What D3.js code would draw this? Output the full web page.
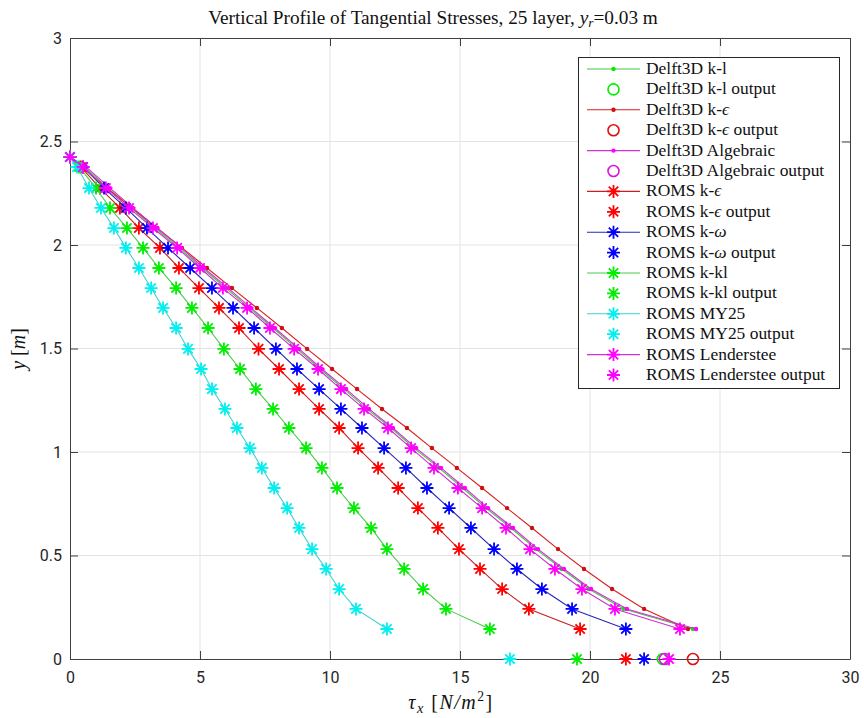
<!DOCTYPE html>
<html>
<head>
<meta charset="utf-8">
<script src="https://cdn.jsdelivr.net/npm/d3@7"></script>
<style>
  body { margin: 0; background: #fff; }
  svg { display: block; }
  .tick text { font-family: Roboto, "DejaVu Sans", sans-serif; font-size: 16px; fill: #262626; }
  .serif { font-family: "Liberation Serif", "DejaVu Serif", serif; fill: #111; }
</style>
</head>
<body>
<svg id="chart" width="864" height="718"></svg>
<script>
// vertical levels (m), bottom to top
var levels = [0.145, 0.242, 0.338, 0.435, 0.531, 0.633, 0.729, 0.826, 0.923, 1.019,
  1.116, 1.208, 1.304, 1.401, 1.498, 1.599, 1.696, 1.792, 1.889, 1.986,
  2.082, 2.179, 2.275, 2.377, 2.425];

// tangential stress (N/m^2) at each level
var delftKl = [23.96, 21.30, 19.95, 18.92, 17.92, 16.96, 16.00, 15.10, 14.19, 13.23,
  12.35, 11.42, 10.54, 9.62, 8.73, 7.81, 6.88, 6.00, 5.08, 4.19, 3.27, 2.35, 1.46, 0.56, 0];
var delftKe = [23.77, 22.08, 20.85, 19.77, 18.77, 17.77, 16.81, 15.85, 14.88, 13.92,
  12.96, 12.00, 11.04, 10.08, 9.12, 8.15, 7.19, 6.23, 5.27, 4.31, 3.35, 2.38, 1.42, 0.46, 0];
var delftAlg = [24.08, 21.42, 20.04, 19.00, 18.00, 17.04, 16.08, 15.19, 14.27, 13.31,
  12.42, 11.50, 10.62, 9.69, 8.81, 7.88, 6.96, 6.08, 5.15, 4.27, 3.35, 2.42, 1.54, 0.62, 0];
var romsKe = [19.62, 17.65, 16.62, 15.77, 14.96, 14.15, 13.38, 12.62, 11.85, 11.08,
  10.35, 9.58, 8.81, 8.04, 7.25, 6.50, 5.73, 4.96, 4.19, 3.46, 2.65, 1.92, 1.15, 0.42, 0];
var romsKw = [21.38, 19.31, 18.15, 17.19, 16.31, 15.42, 14.58, 13.73, 12.92, 12.08,
  11.23, 10.42, 9.58, 8.73, 7.92, 7.08, 6.27, 5.46, 4.62, 3.77, 2.96, 2.15, 1.31, 0.50, 0];
var romsKkl = [16.15, 14.46, 13.58, 12.85, 12.19, 11.58, 10.92, 10.27, 9.69, 9.08,
  8.42, 7.81, 7.15, 6.54, 5.92, 5.31, 4.69, 4.08, 3.42, 2.81, 2.19, 1.54, 1.00, 0.35, 0];
var romsMy25 = [12.19, 11.00, 10.35, 9.85, 9.31, 8.81, 8.35, 7.85, 7.38, 6.92,
  6.42, 5.96, 5.46, 5.04, 4.54, 4.08, 3.58, 3.12, 2.65, 2.15, 1.69, 1.19, 0.73, 0.27, 0];
var romsLen = [23.46, 20.96, 19.69, 18.65, 17.69, 16.77, 15.85, 14.92, 14.00, 13.12,
  12.23, 11.31, 10.42, 9.54, 8.62, 7.69, 6.81, 5.88, 5.00, 4.12, 3.19, 2.27, 1.38, 0.50, 0];

// bed stress outputs (plotted at y = 0)
var outDelftKl = 22.80, outDelftKe = 23.96, outDelftAlg = 22.88;
var outRomsKe = 21.38, outRomsKw = 22.08, outRomsKkl = 19.50, outRomsMy25 = 16.92, outRomsLen = 23.04;

var xTicks = [0, 5, 10, 15, 20, 25, 30];
var yTicks = [0, 0.5, 1, 1.5, 2, 2.5, 3];

(function draw() {
  var svg = d3.select("#chart");
  var pLeft = 70, pRight = 850, pTop = 38, pBottom = 659;

  var x = d3.scaleLinear().domain([0, 30]).range([pLeft, pRight]);
  var y = d3.scaleLinear().domain([0, 3]).range([pBottom, pTop]);

  // grid
  svg.append("g").selectAll("line").data(xTicks.slice(1, -1)).enter().append("line")
    .attr("x1", d => x(d)).attr("x2", d => x(d)).attr("y1", pTop).attr("y2", pBottom)
    .attr("stroke", "#e3e3e3").attr("stroke-width", 1);
  svg.append("g").selectAll("line").data(yTicks.slice(1, -1)).enter().append("line")
    .attr("y1", d => y(d)).attr("y2", d => y(d)).attr("x1", pLeft).attr("x2", pRight)
    .attr("stroke", "#e3e3e3").attr("stroke-width", 1);

  // axes with inward ticks
  function styleAxis(g) {
    g.select(".domain").attr("stroke", "#404040");
    g.selectAll(".tick line").attr("stroke", "#404040");
    g.selectAll("text").attr("font-family", null).attr("font-size", null);
  }
  svg.append("g").attr("transform", "translate(0," + pBottom + ")")
    .call(d3.axisBottom(x).tickValues(xTicks).tickSize(-8).tickSizeOuter(0).tickPadding(13))
    .call(styleAxis);
  svg.append("g").attr("transform", "translate(0," + pTop + ")")
    .call(d3.axisTop(x).tickValues(xTicks).tickSize(-8).tickSizeOuter(0).tickFormat(""))
    .call(styleAxis);
  svg.append("g").attr("transform", "translate(" + pLeft + ",0)")
    .call(d3.axisLeft(y).tickValues(yTicks).tickSize(-8).tickSizeOuter(0).tickPadding(8).tickFormat(d3.format("")))
    .call(styleAxis);
  svg.append("g").attr("transform", "translate(" + pRight + ",0)")
    .call(d3.axisRight(y).tickValues(yTicks).tickSize(-8).tickSizeOuter(0).tickFormat(""))
    .call(styleAxis);

  // marker helpers
  function starPath(r) {
    var d = r * 0.72;
    return "M" + (-r) + ",0L" + r + ",0M0," + (-r) + "L0," + r +
      "M" + (-d) + "," + (-d) + "L" + d + "," + d + "M" + (-d) + "," + d + "L" + d + "," + (-d);
  }
  function drawMarker(g, type, color, cx, cy) {
    if (type === "dot") {
      g.append("circle").attr("cx", cx).attr("cy", cy).attr("r", 2.2).attr("fill", color);
    } else if (type === "circle") {
      g.append("circle").attr("cx", cx).attr("cy", cy).attr("r", 5.5)
        .attr("fill", "none").attr("stroke", color).attr("stroke-width", 1.6);
    } else {
      g.append("path").attr("d", starPath(6.5)).attr("transform", "translate(" + cx + "," + cy + ")")
        .attr("fill", "none").attr("stroke", color).attr("stroke-width", 1.8);
    }
  }

  // stretch a text's font size so it spans the wanted width
  function fitWidth(t, want) {
    var fs = +t.attr("font-size");
    var w = t.node().getBBox().width;
    if (w > 0) t.attr("font-size", (fs * want / w).toFixed(2));
  }

  var cGreen = "#00ee00", cRed = "#ff0000", cMag = "#ff00ff", cBlue = "#0000ff", cCyan = "#00f0f0";

  // legend order == plot order
  var entries = [
    { label: [["Delft3D k-l", 0]], vals: delftKl, color: cGreen, line: "#40c840", marker: "dot" },
    { label: [["Delft3D k-l output", 0]], out: outDelftKl, color: cGreen, marker: "circle" },
    { label: [["Delft3D k-", 0], ["ϵ", 1]], vals: delftKe, color: "#d01010", line: "#d82020", marker: "dot" },
    { label: [["Delft3D k-", 0], ["ϵ", 1], [" output", 0]], out: outDelftKe, color: "#e01010", marker: "circle" },
    { label: [["Delft3D Algebraic", 0]], vals: delftAlg, color: cMag, line: "#d030d0", marker: "dot" },
    { label: [["Delft3D Algebraic output", 0]], out: outDelftAlg, color: "#e010e0", marker: "circle" },
    { label: [["ROMS k-", 0], ["ϵ", 1]], vals: romsKe, color: cRed, line: "#c82020", marker: "star" },
    { label: [["ROMS k-", 0], ["ϵ", 1], [" output", 0]], out: outRomsKe, color: cRed, marker: "star" },
    { label: [["ROMS k-", 0], ["ω", 1]], vals: romsKw, color: cBlue, line: "#2828b8", marker: "star" },
    { label: [["ROMS k-", 0], ["ω", 1], [" output", 0]], out: outRomsKw, color: cBlue, marker: "star" },
    { label: [["ROMS k-kl", 0]], vals: romsKkl, color: cGreen, line: "#48cc48", marker: "star" },
    { label: [["ROMS k-kl output", 0]], out: outRomsKkl, color: cGreen, marker: "star" },
    { label: [["ROMS MY25", 0]], vals: romsMy25, color: cCyan, line: "#40d0d0", marker: "star" },
    { label: [["ROMS MY25 output", 0]], out: outRomsMy25, color: cCyan, marker: "star" },
    { label: [["ROMS Lenderstee", 0]], vals: romsLen, color: cMag, line: "#d030d0", marker: "star" },
    { label: [["ROMS Lenderstee output", 0]], out: outRomsLen, color: cMag, marker: "star" }
  ];

  var plot = svg.append("g");
  var line = d3.line().x(d => x(d[0])).y(d => y(d[1]));
  entries.forEach(function (e) {
    var g = plot.append("g");
    if (e.vals) {
      var pts = e.vals.map((v, i) => [v, levels[i]]);
      g.append("path").datum(pts).attr("d", line).attr("fill", "none")
        .attr("stroke", e.line).attr("stroke-width", 1.1);
      pts.forEach(p => drawMarker(g, e.marker, e.color, x(p[0]), y(p[1])));
    } else {
      drawMarker(g, e.marker, e.color, x(e.out), y(0));
    }
  });

  // title
  var title = svg.append("text").attr("class", "serif").attr("x", 433).attr("y", 24)
    .attr("text-anchor", "middle").attr("font-size", 17);
  title.append("tspan").text("Vertical Profile of Tangential Stresses, 25 layer, ");
  title.append("tspan").attr("font-style", "italic").text("y");
  title.append("tspan").attr("font-style", "italic").attr("font-size", "0.7em").attr("dy", 3).text("r");
  title.append("tspan").attr("dy", -3).text("=0.03 m");
  fitWidth(title, 450);

  // axis labels
  var xl = svg.append("text").attr("class", "serif").attr("x", 451).attr("y", 709)
    .attr("text-anchor", "middle").attr("font-size", 20).attr("letter-spacing", 1.5);
  xl.append("tspan").attr("font-style", "italic").text("τ");
  xl.append("tspan").attr("font-style", "italic").attr("font-size", "0.72em").attr("dy", 4).text("x");
  xl.append("tspan").attr("dy", -4).text(" [");
  xl.append("tspan").attr("font-style", "italic").text("N/m");
  xl.append("tspan").attr("font-size", "0.68em").attr("dy", -8).text("2");
  xl.append("tspan").attr("dy", 8).text("]");

  var yl = svg.append("text").attr("class", "serif").attr("transform", "translate(25,349) rotate(-90)")
    .attr("text-anchor", "middle").attr("font-size", 20);
  yl.append("tspan").attr("font-style", "italic").text("y");
  yl.append("tspan").text(" [");
  yl.append("tspan").attr("font-style", "italic").text("m");
  yl.append("tspan").text("]");

  // legend
  var lg = svg.append("g");
  lg.append("rect").attr("x", 578.5).attr("y", 57.5).attr("width", 261).attr("height", 331)
    .attr("fill", "#fff").attr("stroke", "#262626").attr("stroke-width", 1);
  var legendTexts = [];
  entries.forEach(function (e, i) {
    var cy = 69 + i * 20.4;
    var g = lg.append("g");
    if (e.vals) {
      g.append("line").attr("x1", 587).attr("x2", 640).attr("y1", cy).attr("y2", cy)
        .attr("stroke", e.line).attr("stroke-width", 1.1);
    }
    drawMarker(g, e.marker, e.color, 613.5, cy);
    var t = g.append("text").attr("class", "serif").attr("x", 646).attr("y", cy + 5).attr("font-size", 15.5);
    e.label.forEach(function (p) {
      t.append("tspan").attr("font-style", p[1] ? "italic" : null).text(p[0]);
    });
    legendTexts.push(t);
  });
  // size legend font from the widest label
  var ref = legendTexts[5];
  var fs = 15.5 * 179 / ref.node().getBBox().width;
  legendTexts.forEach(t => t.attr("font-size", fs.toFixed(2)));
})();
</script>
</body>
</html>
